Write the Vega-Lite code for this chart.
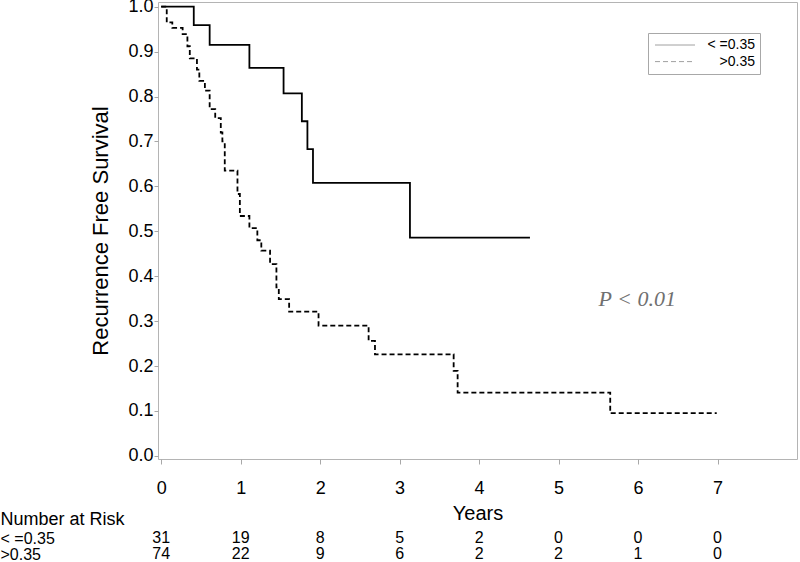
{
  "$schema": "https://vega.github.io/schema/vega-lite/v6.json",
  "padding": {"left": 0, "top": -3, "right": 0, "bottom": 0},
  "background": "white",
  "bounds": "flush",
  "spacing": 71,
  "config": {
    "font": "Liberation Sans",
    "view": {"stroke": "#b4b4b4", "strokeWidth": 1},
    "axis": {"grid": false, "labelColor": "black", "titleColor": "black", "titleFontWeight": "normal", "labelFont": "Liberation Sans", "titleFont": "Liberation Sans", "tickColor": "#a8a8a8", "domain": false}
  },
  "datasets": {
    "km": [
      {"group": "< =0.35", "t": 0, "s": 1.0},
      {"group": "< =0.35", "t": 0.41, "s": 0.959},
      {"group": "< =0.35", "t": 0.61, "s": 0.915},
      {"group": "< =0.35", "t": 1.11, "s": 0.864},
      {"group": "< =0.35", "t": 1.54, "s": 0.807},
      {"group": "< =0.35", "t": 1.77, "s": 0.745},
      {"group": "< =0.35", "t": 1.84, "s": 0.683},
      {"group": "< =0.35", "t": 1.91, "s": 0.608},
      {"group": "< =0.35", "t": 3.13, "s": 0.486},
      {"group": "< =0.35", "t": 4.64, "s": 0.486},
      {"group": ">0.35", "t": 0, "s": 1.0},
      {"group": ">0.35", "t": 0.07, "s": 0.965},
      {"group": ">0.35", "t": 0.14, "s": 0.953},
      {"group": ">0.35", "t": 0.27, "s": 0.939},
      {"group": ">0.35", "t": 0.33, "s": 0.912},
      {"group": ">0.35", "t": 0.36, "s": 0.885},
      {"group": ">0.35", "t": 0.45, "s": 0.86},
      {"group": ">0.35", "t": 0.48, "s": 0.835},
      {"group": ">0.35", "t": 0.55, "s": 0.813},
      {"group": ">0.35", "t": 0.61, "s": 0.772},
      {"group": ">0.35", "t": 0.68, "s": 0.752},
      {"group": ">0.35", "t": 0.75, "s": 0.72},
      {"group": ">0.35", "t": 0.77, "s": 0.70},
      {"group": ">0.35", "t": 0.80, "s": 0.635},
      {"group": ">0.35", "t": 0.96, "s": 0.583},
      {"group": ">0.35", "t": 0.99, "s": 0.534},
      {"group": ">0.35", "t": 1.11, "s": 0.507},
      {"group": ">0.35", "t": 1.21, "s": 0.48},
      {"group": ">0.35", "t": 1.26, "s": 0.457},
      {"group": ">0.35", "t": 1.37, "s": 0.427},
      {"group": ">0.35", "t": 1.45, "s": 0.375},
      {"group": ">0.35", "t": 1.48, "s": 0.349},
      {"group": ">0.35", "t": 1.61, "s": 0.321},
      {"group": ">0.35", "t": 1.98, "s": 0.29},
      {"group": ">0.35", "t": 2.61, "s": 0.256},
      {"group": ">0.35", "t": 2.69, "s": 0.226},
      {"group": ">0.35", "t": 3.68, "s": 0.189},
      {"group": ">0.35", "t": 3.73, "s": 0.141},
      {"group": ">0.35", "t": 5.65, "s": 0.095},
      {"group": ">0.35", "t": 6.99, "s": 0.095}
    ],
    "note": [{"label": "P < 0.01", "t": 5.99, "s": 0.35}],
    "risk": [
      {"group": "< =0.35", "t": 0, "n": 31},
      {"group": "< =0.35", "t": 1, "n": 19},
      {"group": "< =0.35", "t": 2, "n": 8},
      {"group": "< =0.35", "t": 3, "n": 5},
      {"group": "< =0.35", "t": 4, "n": 2},
      {"group": "< =0.35", "t": 5, "n": 0},
      {"group": "< =0.35", "t": 6, "n": 0},
      {"group": "< =0.35", "t": 7, "n": 0},
      {"group": ">0.35", "t": 0, "n": 74},
      {"group": ">0.35", "t": 1, "n": 22},
      {"group": ">0.35", "t": 2, "n": 9},
      {"group": ">0.35", "t": 3, "n": 6},
      {"group": ">0.35", "t": 4, "n": 2},
      {"group": ">0.35", "t": 5, "n": 2},
      {"group": ">0.35", "t": 6, "n": 1},
      {"group": ">0.35", "t": 7, "n": 0}
    ]
  },
  "vconcat": [
    {
      "width": 639,
      "height": 457,
      "layer": [
        {
          "data": {"name": "km"},
          "mark": {"type": "line", "interpolate": "step-after", "color": "black", "strokeWidth": 1.8},
          "encoding": {
            "x": {"field": "t", "type": "quantitative", "scale": {"domain": [-0.04, 8], "nice": false, "zero": false},
              "axis": {"values": [0, 1, 2, 3, 4, 5, 6, 7], "title": "Years", "labelFontSize": 18, "titleFontSize": 20, "tickSize": 5, "labelPadding": 15, "titlePadding": 6, "labelFlush": false, "format": "d"}},
            "y": {"field": "s", "type": "quantitative", "scale": {"domain": [-0.007, 1.0105], "nice": false, "zero": false},
              "axis": {"values": [0, 0.1, 0.2, 0.3, 0.4, 0.5, 0.6, 0.7, 0.8, 0.9, 1.0], "format": ".1f", "title": "Recurrence Free Survival", "labelFontSize": 18, "titleFontSize": 22, "tickSize": 4, "labelPadding": 1, "titlePadding": 15, "labelFlush": false}},
            "strokeDash": {"field": "group", "type": "nominal",
              "scale": {"domain": ["< =0.35", ">0.35"], "range": [[1, 0], [5, 3]]},
              "legend": {"title": null, "orient": "none", "legendX": 490, "legendY": 31, "padding": 5, "strokeColor": "#a8a8a8", "fillColor": "white",
                "symbolType": "M-1,0H7", "symbolSize": 100, "symbolStrokeWidth": 1, "symbolStrokeColor": "#a0a0a0", "labelAlign": "right", "labelOffset": 88, "labelFontSize": 14, "labelColor": "black", "rowPadding": 2.6,
                "encode": {"symbols": {"update": {"stroke": {"value": "#a0a0a0"}, "fill": {"value": "transparent"}, "strokeWidth": {"value": 1}}}}}}
          }
        },
        {
          "data": {"name": "note"},
          "mark": {"type": "text", "font": "Liberation Serif", "fontStyle": "italic", "fontSize": 22, "color": "#707070", "align": "center", "baseline": "middle"},
          "encoding": {
            "x": {"field": "t", "type": "quantitative"},
            "y": {"field": "s", "type": "quantitative"},
            "text": {"field": "label"}
          }
        }
      ]
    },
    {
      "width": 639,
      "height": 32,
      "view": {"stroke": null},
      "data": {"name": "risk"},
      "mark": {"type": "text", "fontSize": 16, "align": "center", "baseline": "middle", "color": "black"},
      "encoding": {
        "x": {"field": "t", "type": "quantitative", "scale": {"domain": [-0.04, 8], "nice": false, "zero": false}, "axis": null},
        "y": {"field": "group", "type": "nominal", "scale": {"type": "point", "domain": ["< =0.35", ">0.35"], "padding": 0.5},
          "axis": {"ticks": false, "tickSize": 0, "domain": false, "labelAlign": "left", "labelPadding": 158, "labelFontSize": 16, "labelLimit": 300,
            "title": "Number at Risk", "titleAngle": 0, "titleAlign": "left", "titleBaseline": "middle", "titleX": -158, "titleY": -11, "titleFontSize": 18}},
        "text": {"field": "n", "type": "quantitative"}
      }
    }
  ]
}
